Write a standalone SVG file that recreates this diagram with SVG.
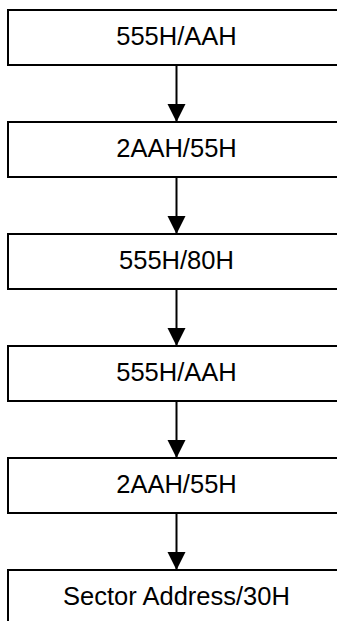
<svg xmlns="http://www.w3.org/2000/svg" width="337" height="621" viewBox="0 0 337 621">
<defs>
<style>
.box{fill:#fff;stroke:#000;stroke-width:2}
.lbl{font-family:"Liberation Sans",Arial,sans-serif;font-size:25.5px;fill:#000;text-anchor:middle}
.edge{stroke:#000;stroke-width:2;fill:none}
</style>
<marker id="ah" viewBox="0 0 18 20" refX="18" refY="10" markerWidth="18" markerHeight="20" markerUnits="userSpaceOnUse" orient="auto"><path d="M0,1 L18,10 L0,19 Z" fill="#000"/></marker>
</defs>
<rect width="337" height="621" fill="#fff"/>
<g id="connectors">
<line class="edge" x1="176.5" y1="65" x2="176.5" y2="122" marker-end="url(#ah)"/>
<line class="edge" x1="176.5" y1="177" x2="176.5" y2="234" marker-end="url(#ah)"/>
<line class="edge" x1="176.5" y1="289" x2="176.5" y2="346" marker-end="url(#ah)"/>
<line class="edge" x1="176.5" y1="401" x2="176.5" y2="458" marker-end="url(#ah)"/>
<line class="edge" x1="176.5" y1="513" x2="176.5" y2="570" marker-end="url(#ah)"/>
</g>
<g id="n1"><rect class="box" x="8" y="10" width="340" height="55"/><text class="lbl" x="176.5" y="45">555H/AAH</text></g>
<g id="n2"><rect class="box" x="8" y="122" width="340" height="55"/><text class="lbl" x="176.5" y="157">2AAH/55H</text></g>
<g id="n3"><rect class="box" x="8" y="234" width="340" height="55"/><text class="lbl" x="176.5" y="269">555H/80H</text></g>
<g id="n4"><rect class="box" x="8" y="346" width="340" height="55"/><text class="lbl" x="176.5" y="381">555H/AAH</text></g>
<g id="n5"><rect class="box" x="8" y="458" width="340" height="55"/><text class="lbl" x="176.5" y="493">2AAH/55H</text></g>
<g id="n6"><rect class="box" x="8" y="570" width="340" height="55"/><text class="lbl" x="176.5" y="605">Sector Address/30H</text></g>
</svg>
